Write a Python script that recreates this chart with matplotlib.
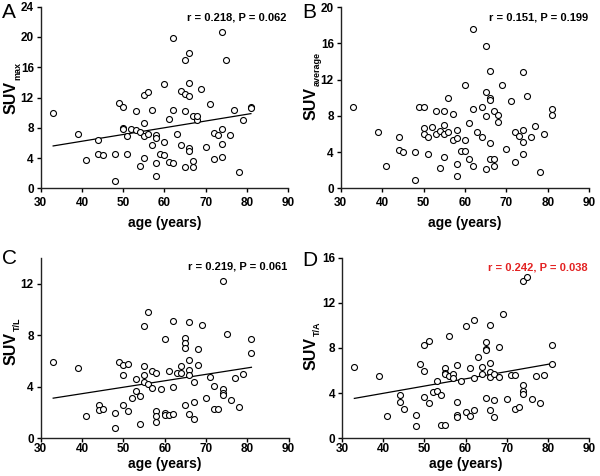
import numpy as np
import matplotlib
matplotlib.use("Agg")
import matplotlib.pyplot as plt

plt.rcParams['font.family'] = ['Liberation Sans', 'DejaVu Sans']

# panel A : SUVmax vs age
age_a = [33, 39, 41, 44, 44, 45, 48, 48, 49, 50, 50, 50, 51, 51, 52, 53, 53, 54, 54,
         55, 55, 55, 55, 56, 56, 57, 57, 58, 58, 58, 58, 59, 60, 60, 60, 61, 61,
         62, 62, 62, 63, 64, 64, 65, 65, 65, 65, 66, 66, 66, 66, 66, 67, 67, 67,
         68, 68, 69, 70, 71, 72, 72, 73, 74, 74, 74, 74, 75, 76, 77, 78, 79, 81, 81]
suv_max = [10.0, 7.2, 3.7, 6.4, 4.5, 4.4, 4.6, 1.0, 11.3, 10.8, 8.0, 7.8, 6.9, 4.6, 7.8, 10.2, 7.7, 7.5, 3.0,
           12.3, 8.7, 6.9, 4.0, 12.7, 7.2, 10.3, 5.8, 7.1, 6.7, 3.3, 1.7, 4.6, 13.8, 6.1, 4.4, 9.2, 3.5,
           19.9, 10.4, 3.3, 7.2, 12.9, 5.7, 17.0, 12.5, 10.2, 2.9, 17.9, 13.9, 12.2, 5.4, 4.9, 9.6, 3.6, 2.9,
           9.1, 9.6, 13.1, 5.5, 11.2, 7.3, 3.9, 7.0, 20.7, 7.9, 5.9, 4.2, 17.0, 7.0, 10.4, 2.2, 9.0, 10.8, 10.6]

# panel B : SUVaverage vs age
age_b = age_a
suv_avg = [9.0, 6.25, 2.5, 5.7, 4.2, 4.0, 4.0, 0.9, 9.0, 9.0, 6.7, 6.0, 5.7, 3.8, 6.8, 8.6, 6.0, 6.3, 2.3,
           8.5, 7.0, 6.0, 3.5, 10.0, 6.25, 8.2, 5.3, 6.4, 5.6, 2.7, 1.4, 4.1, 11.4, 5.3, 4.1, 7.2, 3.2,
           17.6, 8.8, 2.5, 6.2, 9.0, 5.7, 15.7, 10.6, 8.0, 2.2, 13.0, 10.0, 9.8, 5.0, 3.2, 8.6, 3.2, 2.5,
           8.1, 7.3, 11.4, 4.4, 9.7, 6.2, 2.9, 5.8, 12.8, 6.4, 5.1, 3.8, 10.2, 5.7, 6.9, 1.8, 6.0, 8.8, 8.1]

# panel C : SUV T/L vs age
age_c = age_a
suv_tl = [5.9, 5.5, 1.7, 2.6, 2.2, 2.3, 2.0, 0.8, 5.9, 5.7, 4.9, 2.6, 5.8, 2.1, 3.1, 4.6, 3.7, 3.3, 1.1,
          8.7, 5.6, 4.9, 4.4, 9.8, 4.2, 5.2, 3.9, 5.1, 2.1, 1.7, 1.3, 3.8, 7.7, 2.0, 1.8, 5.2, 1.8,
          9.1, 4.0, 1.9, 5.1, 5.6, 5.1, 7.8, 7.4, 7.0, 2.6, 9.0, 6.1, 5.3, 4.9, 1.9, 4.4, 2.8, 1.5,
          6.9, 5.7, 8.8, 3.1, 4.8, 4.1, 2.3, 2.3, 12.2, 3.8, 3.5, 3.4, 8.1, 3.0, 4.7, 2.4, 5.0, 7.7, 6.6]

# panel D : SUV T/A vs age
age_d = [33, 39, 41, 44, 44, 45, 48, 48, 49, 50, 50, 50, 51, 51, 52, 53, 53, 54, 54,
         55, 55, 55, 55, 56, 56, 57, 57, 58, 58, 58, 58, 59, 60, 60, 61, 61,
         62, 62, 62, 63, 64, 64, 65, 65, 65, 65, 66, 66, 66, 66, 66, 67, 67, 67,
         68, 68, 69, 70, 71, 72, 72, 73, 74, 74, 74, 74, 75, 76, 77, 78, 79, 81, 81]
suv_ta = [6.3, 5.5, 2.0, 3.8, 3.2, 2.6, 2.1, 1.1, 6.6, 8.3, 6.0, 3.7, 8.6, 3.1, 4.1, 5.1, 4.2, 3.8, 1.2,
          6.2, 5.8, 5.7, 1.2, 9.1, 5.5, 5.7, 5.3, 6.5, 3.2, 2.1, 1.9, 5.1, 9.9, 2.3, 6.2, 2.0,
          10.5, 5.3, 2.5, 7.2, 6.3, 5.7, 8.5, 7.9, 7.8, 3.6, 10.0, 6.7, 5.9, 5.4, 2.5, 5.7, 3.4, 1.9,
          8.1, 5.4, 11.0, 3.5, 5.6, 5.6, 2.6, 2.8, 13.9, 4.7, 4.2, 3.9, 14.3, 3.5, 5.5, 3.1, 5.6, 8.3, 6.6]

stats = ["r = 0.218, P = 0.062", "r = 0.151, P = 0.199",
         "r = 0.219, P = 0.061", "r = 0.242, P = 0.038"]
subs = ["max", "average", "T/L", "T/A"]
letters = ["A", "B", "C", "D"]


def draw_panel(ax, x, y, ymax, ystep, stat, color, fit, top_row, ty):
    ax.plot(x, y, 'o', ms=4.3, mfc='white', mec='black', mew=0.8, zorder=3)
    if fit:
        k, b = np.polyfit(x, y, 1)
        xs = np.array([min(x), max(x)])
        ax.plot(xs, k * xs + b, color='black', lw=0.9)
    ax.set_xlim(30, 90)
    ax.set_ylim(0, ymax)
    ax.set_xticks(np.arange(30, 91, 10))
    ax.set_yticks(np.arange(0, ymax + 0.1, ystep))
    for s in ['top', 'right']:
        ax.spines[s].set_visible(False)
    for s in ['left', 'bottom']:
        ax.spines[s].set_linewidth(1.0)
        ax.spines[s].set_color('#222222')
    ax.tick_params(axis='y', length=3, width=1, pad=2, labelsize=8.5)
    ax.tick_params(axis='x', length=3, width=1, pad=3 if top_row else 0.5, labelsize=8.5)
    for lab in ax.get_xticklabels() + ax.get_yticklabels():
        lab.set_fontweight('bold')
    ax.set_xlabel('age (years)', fontsize=10, fontweight='bold', labelpad=5 if top_row else 1)
    ax.text(0.995, ty, stat, transform=ax.transAxes, ha='right', va='center',
            fontsize=8, fontweight='bold', color=color)


fig = plt.figure(figsize=(6, 4.76), dpi=100)
axA = fig.add_axes([0.068, 0.604, 0.412, 0.382])
axB = fig.add_axes([0.568, 0.604, 0.414, 0.381])
axC = fig.add_axes([0.068, 0.079, 0.413, 0.379])
axD = fig.add_axes([0.570, 0.079, 0.412, 0.380])

draw_panel(axA, age_a, suv_max, 24, 4, stats[0], 'black', True, True, 0.943)
draw_panel(axB, age_b, suv_avg, 20, 4, stats[1], 'black', False, True, 0.943)
draw_panel(axC, age_c, suv_tl, 14, 4, stats[2], 'black', True, False, 0.955)
draw_panel(axD, age_d, suv_ta, 16, 4, stats[3], '#e32222', True, False, 0.946)
axC.set_yticks([0, 4, 8, 12])

for lt, (px, py) in zip(letters, [(2, 3), (302, 3), (2, 249), (302, 251)]):
    fig.text(px / 600, 1 - py / 476, lt, fontsize=15, ha='left', va='top')

# y labels: "SUV" with a small subscript, both rotated (pixel positions from the top)
fig.canvas.draw()
renderer = fig.canvas.get_renderer()
W, H = 600.0, 476.0
for sub, (bx, by) in zip(subs, [(16, 114), (316, 120), (16, 365), (316, 370)]):
    t = fig.text(bx / W, 1 - by / H, 'SUV', rotation=90, rotation_mode='anchor',
                 ha='left', va='baseline', fontsize=11.5, fontweight='bold')
    ext = t.get_window_extent(renderer)
    fig.text((bx + 4) / W, (ext.y1 + 1) / H, sub, rotation=90, rotation_mode='anchor',
             ha='left', va='baseline', fontsize=6.5, fontweight='bold')

fig.savefig('out.png', dpi=100)
